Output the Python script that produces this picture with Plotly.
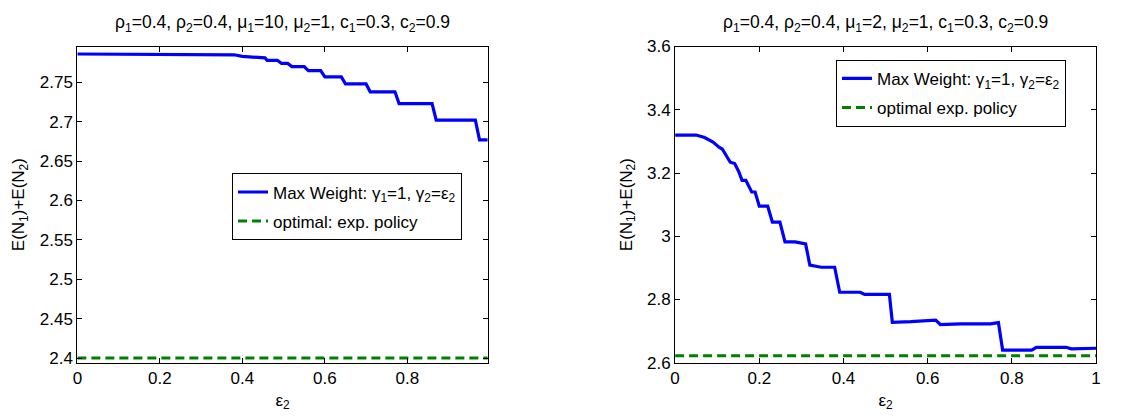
import plotly.graph_objects as go

# ---------------- data ----------------
# Left panel: mu1=10
eps_left = [0.0, 0.30, 0.34, 0.38, 0.40, 0.42, 0.44, 0.455, 0.46, 0.485, 0.495, 0.51, 0.52,
            0.55, 0.56, 0.59, 0.60, 0.64, 0.65, 0.70, 0.71, 0.77, 0.78, 0.86, 0.87, 0.965, 0.975, 0.995]
mw_left = [2.786, 2.786, 2.7855, 2.785, 2.783, 2.782, 2.781, 2.781, 2.778, 2.778, 2.774, 2.774, 2.770,
           2.770, 2.765, 2.765, 2.757, 2.757, 2.748, 2.748, 2.738, 2.738, 2.723, 2.723, 2.702, 2.702, 2.677, 2.677]
opt_left_x = [0.0, 0.995]
opt_left = [2.4, 2.4]

# Right panel: mu1=2
eps_right = [0.0, 0.05, 0.07, 0.09, 0.105, 0.112, 0.131, 0.1415, 0.151, 0.159, 0.168, 0.182, 0.19,
             0.20, 0.22, 0.231, 0.249, 0.261, 0.285, 0.31, 0.32, 0.347, 0.379, 0.391, 0.44, 0.45,
             0.509, 0.516, 0.56, 0.619, 0.63, 0.678, 0.749, 0.768, 0.778, 0.847, 0.858, 0.929, 0.941, 1.0]
mw_right = [3.32, 3.32, 3.312, 3.298, 3.281, 3.276, 3.234, 3.230, 3.205, 3.177, 3.177, 3.14, 3.14,
            3.095, 3.095, 3.045, 3.045, 2.982, 2.982, 2.976, 2.909, 2.902, 2.902, 2.823, 2.823, 2.816,
            2.816, 2.728, 2.73, 2.735, 2.721, 2.723, 2.723, 2.727, 2.64, 2.64, 2.649, 2.649, 2.644, 2.646]
opt_right_x = [0.0, 1.0]
opt_right = [2.622, 2.622]

left_xticks = [0, 0.2, 0.4, 0.6, 0.8]
left_xlabels = ["0", "0.2", "0.4", "0.6", "0.8"]
left_yticks = [2.4, 2.45, 2.5, 2.55, 2.6, 2.65, 2.7, 2.75]
left_ylabels = ["2.4", "2.45", "2.5", "2.55", "2.6", "2.65", "2.7", "2.75"]
right_xticks = [0, 0.2, 0.4, 0.6, 0.8, 1]
right_xlabels = ["0", "0.2", "0.4", "0.6", "0.8", "1"]
right_yticks = [2.6, 2.8, 3.0, 3.2, 3.4, 3.6]
right_ylabels = ["2.6", "2.8", "3", "3.2", "3.4", "3.6"]

title_left = "ρ<sub>1</sub>=0.4, ρ<sub>2</sub>=0.4, μ<sub>1</sub>=10, μ<sub>2</sub>=1, c<sub>1</sub>=0.3, c<sub>2</sub>=0.9"
title_right = "ρ<sub>1</sub>=0.4, ρ<sub>2</sub>=0.4, μ<sub>1</sub>=2, μ<sub>2</sub>=1, c<sub>1</sub>=0.3, c<sub>2</sub>=0.9"
ylab = "E(N<sub>1</sub>)+E(N<sub>2</sub>)"
xlab = "ε<sub>2</sub>"
mw_name = "Max Weight: γ<sub>1</sub>=1, γ<sub>2</sub>=ε<sub>2</sub>"

FONT = "Liberation Sans, Arial, sans-serif"
BLUE = "#0000FF"
GREEN = "#008000"
FS = 17

fig = go.Figure()
fig.add_trace(go.Scatter(x=eps_left, y=mw_left, mode="lines", name=mw_name,
                         line=dict(color=BLUE, width=3.2), xaxis="x", yaxis="y",
                         legend="legend", legendgroup="a"))
fig.add_trace(go.Scatter(x=opt_left_x, y=opt_left, mode="lines", name="optimal: exp. policy",
                         line=dict(color=GREEN, width=3, dash="9px,5px"), xaxis="x", yaxis="y",
                         legend="legend", legendgroup="b"))
fig.add_trace(go.Scatter(x=eps_right, y=mw_right, mode="lines", name=mw_name,
                         line=dict(color=BLUE, width=3.2), xaxis="x2", yaxis="y2",
                         legend="legend2", legendgroup="c"))
fig.add_trace(go.Scatter(x=opt_right_x, y=opt_right, mode="lines", name="optimal exp. policy",
                         line=dict(color=GREEN, width=3, dash="9px,5px"), xaxis="x2", yaxis="y2",
                         legend="legend2", legendgroup="d"))

W, H = 1146, 416
def px_x(p):
    return p / W
def px_y(p):
    return 1 - p / H

axis_common = dict(showline=True, linecolor="black", linewidth=1, mirror="ticks",
                   ticks="inside", ticklen=5, tickcolor="black", showgrid=False, zeroline=False,
                   tickfont=dict(family=FONT, size=FS, color="black"))

fig.update_layout(
    width=W, height=H,
    margin=dict(l=0, r=0, t=0, b=0),
    paper_bgcolor="white", plot_bgcolor="white",
    font=dict(family=FONT, size=FS, color="black"),
    hovermode=False,
    xaxis=dict(domain=[px_x(73), px_x(487)], range=[0, 0.995], anchor="y",
               tickvals=left_xticks, ticktext=left_xlabels,
               title=dict(text=xlab, standoff=6, font=dict(size=FS)), **axis_common),
    yaxis=dict(domain=[px_y(370.7), px_y(39.3)], range=[2.394, 2.7955], anchor="x",
               tickvals=left_yticks, ticktext=left_ylabels,
               title=dict(text=ylab, standoff=10, font=dict(size=FS)), **axis_common),
    xaxis2=dict(domain=[px_x(676), px_x(1100.7)], range=[0, 1], anchor="y2",
                tickvals=right_xticks, ticktext=right_xlabels,
                title=dict(text=xlab, standoff=6, font=dict(size=FS)), **axis_common),
    yaxis2=dict(domain=[px_y(370.7), px_y(39.3)], range=[2.6, 3.6], anchor="x2",
                tickvals=right_yticks, ticktext=right_ylabels,
                title=dict(text=ylab, standoff=10, font=dict(size=FS)), **axis_common),
    legend=dict(x=px_x(229), y=px_y(172.3), xanchor="left", yanchor="top",
                bordercolor="black", borderwidth=1, bgcolor="white",
                font=dict(family=FONT, size=FS), tracegroupgap=4, itemwidth=30),
    legend2=dict(x=px_x(838.3), y=px_y(53.3), xanchor="left", yanchor="top",
                 bordercolor="black", borderwidth=1, bgcolor="white",
                 font=dict(family=FONT, size=FS), tracegroupgap=4, itemwidth=30),
    annotations=[
        dict(text=title_left, x=px_x(280), y=px_y(15), xref="paper", yref="paper",
             xanchor="center", yanchor="middle", showarrow=False, font=dict(family=FONT, size=17.5)),
        dict(text=title_right, x=px_x(888), y=px_y(15), xref="paper", yref="paper",
             xanchor="center", yanchor="middle", showarrow=False, font=dict(family=FONT, size=17.5)),
    ],
)

fig.write_html("out.html")
